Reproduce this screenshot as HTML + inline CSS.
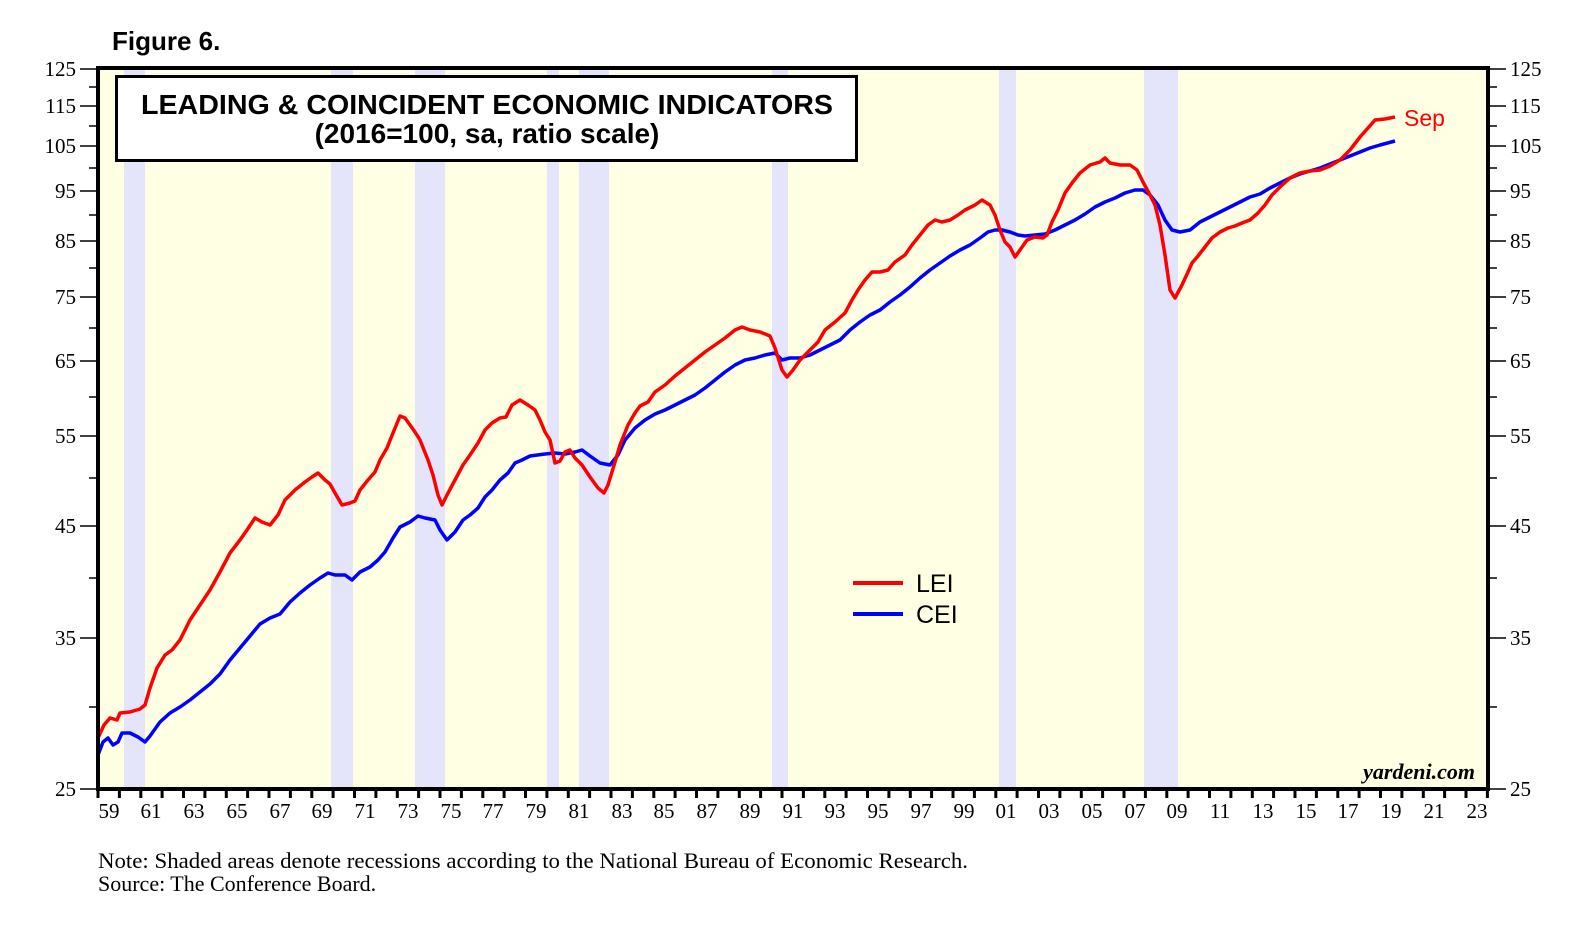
<!DOCTYPE html>
<html><head><meta charset="utf-8"><style>
body{margin:0;background:#fff;}
svg{display:block;}
</style></head><body>
<svg width="1571" height="929" viewBox="0 0 1571 929" xmlns="http://www.w3.org/2000/svg">
<rect x="0" y="0" width="1571" height="929" fill="#fff"/>
<text x="112" y="50" font-family="Liberation Sans, sans-serif" font-weight="bold" font-size="26">Figure 6.</text>
<rect x="98" y="68" width="1390" height="721" fill="#ffffe4"/>
<g fill="#e4e4fa">
<rect x="124" y="70" width="21" height="718"/>
<rect x="331" y="70" width="22" height="718"/>
<rect x="415" y="70" width="30" height="718"/>
<rect x="547" y="70" width="12" height="718"/>
<rect x="579" y="70" width="30" height="718"/>
<rect x="772" y="70" width="16" height="718"/>
<rect x="999" y="70" width="17" height="718"/>
<rect x="1144" y="70" width="34" height="718"/>
</g>
<g stroke="#000" stroke-width="1.5">
<path d="M80 69H97M80 106H97M80 146H97M80 191H97M80 241H97M80 297H97M80 361H97M80 436H97M80 526H97M80 638H97M80 789H97"/>
<path d="M89 87H97M89 126H97M89 168H97M89 215H97M89 268H97M89 328H97M89 397H97M89 478H97M89 578H97M89 707H97"/>
<path d="M1489 69H1506M1489 106H1506M1489 146H1506M1489 191H1506M1489 241H1506M1489 297H1506M1489 361H1506M1489 436H1506M1489 526H1506M1489 638H1506M1489 789H1506"/>
<path d="M1489 87H1497M1489 126H1497M1489 168H1497M1489 215H1497M1489 268H1497M1489 328H1497M1489 397H1497M1489 478H1497M1489 578H1497M1489 707H1497"/>
</g>
<g font-family="Liberation Serif, serif" font-size="21" fill="#000">
<g text-anchor="end">
<text x="76" y="76">125</text><text x="76" y="113">115</text><text x="76" y="153">105</text><text x="76" y="198">95</text><text x="76" y="248">85</text><text x="76" y="304">75</text><text x="76" y="368">65</text><text x="76" y="443">55</text><text x="76" y="533">45</text><text x="76" y="645">35</text><text x="76" y="796">25</text>
</g>
<g text-anchor="start">
<text x="1510" y="76">125</text><text x="1510" y="113">115</text><text x="1510" y="153">105</text><text x="1510" y="198">95</text><text x="1510" y="248">85</text><text x="1510" y="304">75</text><text x="1510" y="368">65</text><text x="1510" y="443">55</text><text x="1510" y="533">45</text><text x="1510" y="645">35</text><text x="1510" y="796">25</text>
</g>
</g>
<g stroke="#000" stroke-width="3">
<path d="M98 790v8M119.4 790v8M140.8 790v8M162.1 790v8M183.5 790v8M204.9 790v8M226.3 790v8M247.6 790v8M269 790v8M290.4 790v8M311.8 790v8M333.1 790v8M354.5 790v8M375.9 790v8M397.3 790v8M418.6 790v8M440 790v8M461.4 790v8M482.8 790v8M504.1 790v8M525.5 790v8M546.9 790v8M568.3 790v8M589.6 790v8M611 790v8M632.4 790v8M653.8 790v8M675.1 790v8M696.5 790v8M717.9 790v8M739.3 790v8M760.6 790v8M782 790v8M803.4 790v8M824.8 790v8M846.1 790v8M867.5 790v8M888.9 790v8M910.3 790v8M931.6 790v8M953 790v8M974.4 790v8M995.8 790v8M1017.1 790v8M1038.5 790v8M1059.9 790v8M1081.3 790v8M1102.6 790v8M1124 790v8M1145.4 790v8M1166.8 790v8M1188.1 790v8M1209.5 790v8M1230.9 790v8M1252.3 790v8M1273.6 790v8M1295 790v8M1316.4 790v8M1337.8 790v8M1359.1 790v8M1380.5 790v8M1401.9 790v8M1423.3 790v8M1444.6 790v8M1466 790v8M1487.4 790v8"/>
</g>
<g font-family="Liberation Serif, serif" font-size="21" fill="#000" text-anchor="middle">
<text x="109" y="818">59</text><text x="151" y="818">61</text><text x="194" y="818">63</text><text x="237" y="818">65</text><text x="280" y="818">67</text><text x="322" y="818">69</text><text x="365" y="818">71</text><text x="408" y="818">73</text><text x="451" y="818">75</text><text x="493" y="818">77</text><text x="536" y="818">79</text><text x="579" y="818">81</text><text x="622" y="818">83</text><text x="664" y="818">85</text><text x="707" y="818">87</text><text x="750" y="818">89</text><text x="793" y="818">91</text><text x="835" y="818">93</text><text x="878" y="818">95</text><text x="921" y="818">97</text><text x="964" y="818">99</text><text x="1006" y="818">01</text><text x="1049" y="818">03</text><text x="1092" y="818">05</text><text x="1135" y="818">07</text><text x="1177" y="818">09</text><text x="1220" y="818">11</text><text x="1263" y="818">13</text><text x="1306" y="818">15</text><text x="1348" y="818">17</text><text x="1391" y="818">19</text><text x="1434" y="818">21</text><text x="1477" y="818">23</text>
</g>
<polyline fill="none" stroke="#0000ff" stroke-width="3.5" stroke-linejoin="round" points="98,755 103,742 108,738 113,745 118,742 122,733 130,733 138,737 145,742 150,736 160,722 170,713 180,707 190,700 200,692 210,684 220,674 230,660 240,648 250,636 260,624 270,618 280,614 290,602 300,593 310,585 320,578 328,573 335,575 345,575 352,580 360,572 370,567 378,560 385,552 393,538 400,527 410,522 418,516 425,518 435,520 440,530 447,540 455,532 463,520 470,515 478,508 485,497 492,490 500,480 508,473 515,463 522,460 530,456 545,454 555,453 565,454 575,452 582,450 590,456 600,463 610,465 618,455 625,440 635,428 645,420 655,414 665,410 675,405 685,400 695,395 705,388 715,380 725,372 735,365 745,360 755,358 765,355 775,353 782,360 790,358 800,358 810,355 820,350 830,345 840,340 850,330 860,322 870,315 880,310 890,302 900,295 910,287 920,278 930,270 940,263 950,256 960,250 970,245 980,238 988,232 995,230 1002,230 1010,232 1018,235 1025,236 1035,235 1045,234 1055,230 1065,225 1075,220 1085,214 1095,207 1105,202 1115,198 1125,193 1135,190 1143,190 1150,195 1158,205 1165,220 1172,230 1180,232 1190,230 1200,222 1210,217 1220,212 1230,207 1240,202 1250,197 1260,194 1270,188 1280,183 1290,178 1300,174 1310,171 1320,168 1330,164 1340,160 1350,156 1360,152 1370,148 1380,145 1395,141"/>
<polyline fill="none" stroke="#ff0000" stroke-width="3.5" stroke-linejoin="round" points="98,738 104,725 110,718 117,720 120,713 130,712 140,709 145,705 150,688 157,668 165,655 172,650 180,640 190,620 200,605 210,590 220,572 230,553 240,540 247,530 255,518 262,522 270,525 278,515 285,500 295,490 305,482 312,477 318,473 325,480 330,484 335,493 342,505 350,503 355,501 360,490 368,480 375,472 380,460 387,448 393,433 400,416 405,418 410,425 415,432 420,440 428,460 433,475 438,495 442,505 447,495 455,480 463,465 470,455 478,443 485,430 492,423 500,418 506,417 512,405 520,400 528,405 535,410 540,420 545,432 550,440 555,463 560,461 565,452 570,450 575,458 582,465 590,477 598,488 604,493 608,485 615,462 620,445 628,425 635,413 640,406 648,402 655,392 665,385 675,376 685,368 695,360 705,352 715,345 725,338 735,330 742,327 750,330 760,332 770,336 775,348 782,370 787,377 793,370 800,360 810,350 818,342 825,330 835,322 845,313 852,300 858,290 865,280 872,272 880,272 888,270 895,262 905,255 912,245 920,235 928,225 935,220 942,222 950,220 958,215 965,210 975,205 982,200 990,205 995,215 1000,230 1005,242 1010,247 1015,257 1020,250 1027,240 1035,237 1043,238 1047,235 1052,222 1058,210 1065,193 1072,183 1080,173 1090,165 1100,162 1105,158 1110,163 1120,165 1130,165 1137,170 1143,182 1150,195 1155,205 1160,225 1165,255 1170,290 1175,298 1182,285 1188,272 1192,263 1198,256 1205,247 1212,238 1220,232 1228,228 1235,226 1242,223 1250,220 1258,213 1265,205 1272,195 1280,187 1290,178 1300,173 1310,171 1320,170 1330,166 1340,160 1350,150 1360,137 1368,128 1375,120 1385,119 1395,117"/>
<rect x="98" y="68" width="1390" height="721" fill="none" stroke="#000" stroke-width="4"/>
<rect x="116.5" y="76.5" width="740" height="84" fill="#fff" stroke="#000" stroke-width="3"/>
<g font-family="Liberation Sans, sans-serif" font-weight="bold" font-size="28" text-anchor="middle">
<text x="487" y="114" textLength="692" lengthAdjust="spacingAndGlyphs">LEADING &amp; COINCIDENT ECONOMIC INDICATORS</text>
<text x="487" y="143">(2016=100, sa, ratio scale)</text>
</g>
<text x="1404" y="126" font-family="Liberation Sans, sans-serif" font-size="23" fill="#ff0000">Sep</text>
<line x1="853" y1="583" x2="903" y2="583" stroke="#ff0000" stroke-width="4"/>
<line x1="853" y1="614" x2="903" y2="614" stroke="#0000ff" stroke-width="4"/>
<g font-family="Liberation Sans, sans-serif" font-size="25">
<text x="916" y="592">LEI</text><text x="916" y="623">CEI</text>
</g>
<text x="1475" y="779" text-anchor="end" font-family="Liberation Serif, serif" font-style="italic" font-weight="bold" font-size="22">yardeni.com</text>
<g font-family="Liberation Serif, serif" font-size="22">
<text x="98" y="868" textLength="870" lengthAdjust="spacingAndGlyphs">Note: Shaded areas denote recessions according to the National Bureau of Economic Research.</text>
<text x="98" y="891">Source: The Conference Board.</text>
</g>
</svg>
</body></html>
